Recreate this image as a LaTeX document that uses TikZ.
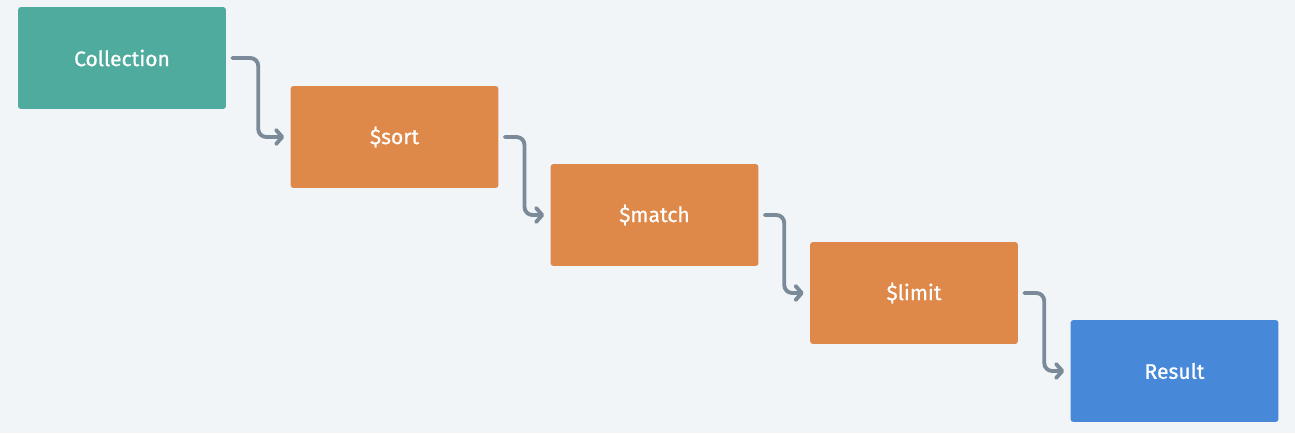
\documentclass[tikz,border=0pt]{standalone}
\usepackage{fontspec}
\setmainfont{Fira Sans}
\newfontfamily\boxFont{Fira Sans}[FakeBold=0.8]
\usepackage{tikz}
\usetikzlibrary{arrows.meta}
\definecolor{bgColor}{HTML}{F1F5F8}
\definecolor{sourceColor}{HTML}{4FAB9E}
\definecolor{stageColor}{HTML}{DE8849}
\definecolor{resultColor}{HTML}{4788D8}
\definecolor{linkColor}{HTML}{7B8A98}
\tikzset{
  pipeBox/.style = {minimum width=4.16cm, minimum height=2.04cm, rounded corners=.06cm,
    text=white, font=\boxFont\fontsize{12}{14}\selectfont, inner sep=0pt},
  pipeLink/.style = {color=linkColor, line width=2.2pt, rounded corners=.16cm, line cap=round,
    -{Straight Barb[length=3.5pt, width=8pt, line join=round, line cap=round]}}
}
\newcommand{\linkGap}{.12cm}

\begin{document}
\begin{tikzpicture}[x=0.02cm, y=-0.02cm]
  \fill [bgColor] (0,0) rectangle (1295,433);
  \useasboundingbox (0,0) rectangle (1295,433);
  % pipeline boxes
  \foreach \name/\label/\col/\x/\y in {coll/Collection/sourceColor/122/58,
      sort/\$sort/stageColor/394.5/137,
      match/\$match/stageColor/654.5/215,
      limit/\$limit/stageColor/914/293,
      res/Result/resultColor/1174.5/371}
    \node (\name) [pipeBox, fill=\col] at (\x,\y) {\label};
  % connectors
  \foreach \from/\to in {coll/sort, sort/match, match/limit, limit/res} {
    \path (\from.east) -- coordinate[midway] (\from-mid) (\to.west);
    \draw [pipeLink] ([xshift=\linkGap]\from.east) -| (\from-mid) |- ([xshift=-\linkGap]\to.west);
  }
\end{tikzpicture}
\end{document}
